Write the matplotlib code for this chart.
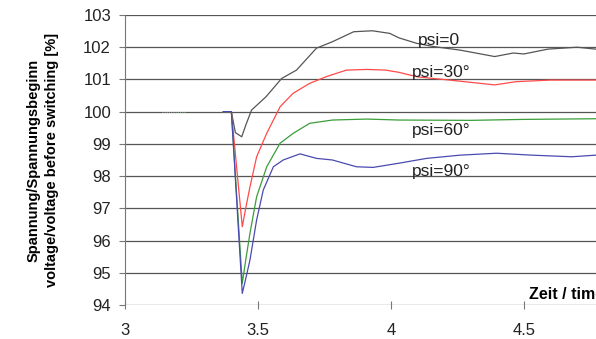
import matplotlib
matplotlib.use('Agg')
import matplotlib.pyplot as plt

plt.rcParams['font.family'] = ['Liberation Sans', 'DejaVu Sans']

# Kurven (Zeit [s], Spannung [%])
t_psi0 = [3.37, 3.40, 3.415, 3.439, 3.455, 3.476, 3.53, 3.589, 3.645, 3.72, 3.78, 3.86,
          3.93, 3.995, 4.03, 4.097, 4.16, 4.26, 4.39, 4.46, 4.50, 4.59, 4.70, 4.77]
v_psi0 = [100.0, 100.0, 99.35, 99.22, 99.6, 100.05, 100.46, 101.03, 101.29, 101.97, 102.17, 102.48,
          102.51, 102.43, 102.29, 102.12, 102.02, 101.91, 101.71, 101.82, 101.79, 101.94, 102.0, 101.94]

t_psi30 = [3.37, 3.40, 3.441, 3.455, 3.47, 3.495, 3.533, 3.583, 3.632, 3.695, 3.758, 3.833, 3.909,
           3.98, 4.03, 4.10, 4.22, 4.39, 4.47, 4.60, 4.77]
v_psi30 = [100.0, 100.0, 96.43, 97.05, 97.67, 98.6, 99.33, 100.15, 100.57, 100.88, 101.09, 101.29, 101.31,
           101.29, 101.22, 101.08, 100.98, 100.83, 100.93, 100.98, 100.98]

t_psi60 = [3.37, 3.40, 3.441, 3.455, 3.47, 3.495, 3.533, 3.583, 3.633, 3.695, 3.78, 3.91, 4.03,
           4.3, 4.5, 4.77]
v_psi60 = [100.0, 100.0, 94.67, 95.45, 96.23, 97.36, 98.29, 99.02, 99.33, 99.64, 99.74, 99.77, 99.74,
           99.73, 99.76, 99.78]

t_psi90 = [3.37, 3.40, 3.441, 3.455, 3.47, 3.495, 3.52, 3.558, 3.595, 3.658, 3.72, 3.78, 3.87,
           3.933, 4.03, 4.134, 4.26, 4.397, 4.53, 4.68, 4.77]
v_psi90 = [100.0, 100.0, 94.36, 94.85, 95.40, 96.64, 97.57, 98.29, 98.50, 98.69, 98.55, 98.50, 98.29,
           98.27, 98.40, 98.55, 98.65, 98.71, 98.65, 98.60, 98.65]

# kurzes Stueck vor dem Schalten
t_pre = [3.14, 3.23]
v_pre = [100.0, 100.0]

labels = ['psi=0', 'psi=30°', 'psi=60°', 'psi=90°']
label_pos = [(4.10, 102.2), (4.08, 101.2), (4.08, 99.43), (4.08, 98.13)]

xticks = [3, 3.5, 4, 4.5]
xticklabels = ['3', '3.5', '4', '4.5']
yticks = list(range(94, 104))

fig = plt.figure(figsize=(5.96, 3.39), dpi=100)
ax = fig.add_axes([0.2097, 0.1003, 0.7903, 0.8555])

for y in yticks:
    ax.axhline(y, color='#555555', lw=0.9, zorder=1)

ax.plot(t_pre, v_pre, color='#9ab89a', lw=0.6, ls=':', zorder=2)
ax.plot(t_psi0, v_psi0, color='#555555', lw=0.9, zorder=3)
ax.plot(t_psi30, v_psi30, color='#ff4a4a', lw=0.9, zorder=3)
ax.plot(t_psi60, v_psi60, color='#3a9e3a', lw=0.9, zorder=3)
ax.plot(t_psi90, v_psi90, color='#4a4ab0', lw=0.9, zorder=3)

for lab, (x, y) in zip(labels, label_pos):
    ax.text(x, y, lab, fontsize=12.5, color='#222222', va='center', ha='left', zorder=4)

ax.text(4.52, 94.1, 'Zeit / time [s]', fontsize=11.5, fontweight='bold', ha='left', va='bottom')

ax.set_xlim(3, 4.771)
ax.set_ylim(94, 103)
ax.set_xticks(xticks)
ax.set_xticklabels(xticklabels)
ax.set_yticks(yticks)

for s in ['top', 'right', 'bottom']:
    ax.spines[s].set_visible(False)
ax.spines['left'].set_color('#777777')

ax.tick_params(axis='x', direction='inout', length=6, width=0.8, color='#777777', pad=10,
               labelsize=12, labelcolor='#222222')
ax.tick_params(axis='y', direction='out', length=4, width=0.8, color='#777777', pad=6,
               labelsize=12, labelcolor='#222222')

fig.text(43 / 596, 0.528, 'Spannung/Spannungsbeginn\nvoltage/voltage before switching [%]',
         rotation=90, ha='center', va='center', multialignment='center',
         fontsize=10.5, fontweight='bold', linespacing=1.4)

fig.savefig('out.png', dpi=100)
